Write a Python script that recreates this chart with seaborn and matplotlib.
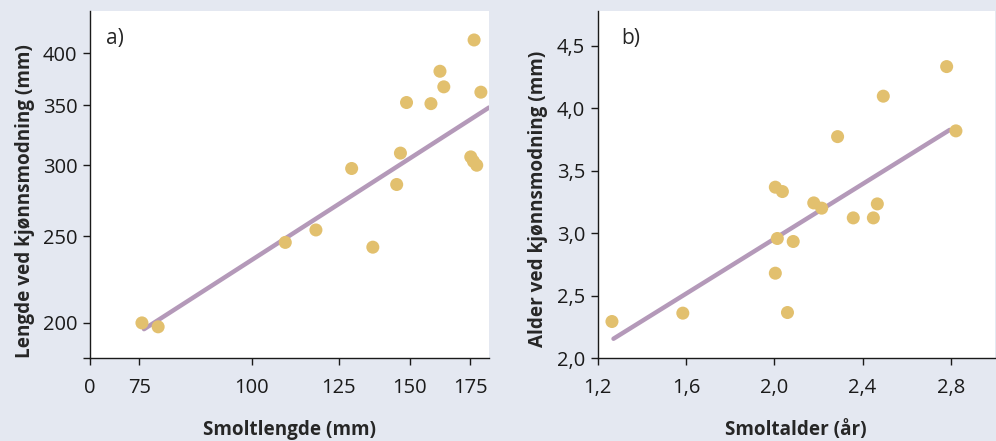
import numpy as np
import pandas as pd
import matplotlib
matplotlib.use("Agg")
import matplotlib.pyplot as plt
import seaborn as sns

# ── data ─────────────────────────────────────────────────────
# a) smolt length vs length at maturity (log-log axes)
smolt_len = [75.5, 78.7, 109.0, 117.9, 136.4, 129.2, 145.0, 146.4, 148.7,
             158.3, 162.0, 163.6, 176.8, 179.9, 175.3, 176.5, 178.0]
mature_len = [200, 198, 246, 254, 243, 297.5, 285.5, 309.5, 352.5,
              351.5, 382, 367, 414, 362, 306.5, 303, 300]
line_a_x = [75.9, 183.7]
line_a_y = [196.8, 348]

# b) smolt age vs age at maturity
smolt_age = [1.265, 1.586, 2.06, 2.005, 2.014, 2.086, 2.005, 2.037, 2.179,
             2.215, 2.287, 2.358, 2.449, 2.467, 2.494, 2.781, 2.823]
mature_age = [2.293, 2.36, 2.365, 2.68, 2.958, 2.934, 3.369, 3.334, 3.243,
              3.201, 3.774, 3.123, 3.123, 3.235, 4.098, 4.335, 3.82]
line_b_x = [1.272, 2.795]
line_b_y = [2.155, 3.828]

xticks_a = [66.1, 75, 100, 125, 150, 175]
xlabels_a = ["0", "75", "100", "125", "150", "175"]
yticks_a = [182.7, 200, 250, 300, 350, 400]
ylabels_a = ["", "200", "250", "300", "350", "400"]
xticks_b = [1.2, 1.6, 2.0, 2.4, 2.8]
yticks_b = [2.0, 2.5, 3.0, 3.5, 4.0, 4.5]

BG = "#e4e8f1"
DOT = "#e2c06e"
LINE = "#b499b9"

sns.set_style("ticks")
plt.rcParams["font.family"] = ["Open Sans", "DejaVu Sans"]

fig = plt.figure(figsize=(9.96, 4.41), dpi=100, facecolor=BG)
ax1 = fig.add_axes([0.0904, 0.188, 0.4006, 0.787])
ax2 = fig.add_axes([0.6000, 0.188, 0.3990, 0.787])

df_a = pd.DataFrame({"x": smolt_len, "y": mature_len})
df_b = pd.DataFrame({"x": smolt_age, "y": mature_age})

for ax in (ax1, ax2):
    ax.set_facecolor("white")
    for s in ("top", "right"):
        ax.spines[s].set_visible(False)
    for s in ("left", "bottom"):
        ax.spines[s].set_color("#1a1a1a")
        ax.spines[s].set_linewidth(1.0)
    ax.tick_params(direction="out", length=5, width=1, color="#1a1a1a",
                   labelsize=14.5, labelcolor="#1a1a1a")
    ax.tick_params(axis="x", pad=9)
    ax.tick_params(axis="y", pad=4)

# panel a
sns.lineplot(x=line_a_x, y=line_a_y, ax=ax1, color=LINE, lw=3.2, zorder=2)
sns.scatterplot(data=df_a, x="x", y="y", ax=ax1, color=DOT, s=88,
                edgecolor="none", zorder=3)
ax1.set_xscale("log")
ax1.set_yscale("log")
ax1.set_xlim(66.1, 183.7)
ax1.set_ylim(182.7, 446)
ax1.set_xticks(xticks_a)
ax1.set_xticklabels(xlabels_a)
ax1.set_yticks(yticks_a)
ax1.set_yticklabels(ylabels_a)
ax1.minorticks_off()
ax1.set_xlabel("Smoltlengde (mm)", fontsize=13.6, fontweight="bold", labelpad=16)
ax1.set_ylabel("Lengde ved kjønnsmodning (mm)", fontsize=13.6, fontweight="bold",
               labelpad=6, y=0.452)
ax1.text(0.04, 0.95, "a)", transform=ax1.transAxes, fontsize=15, va="top")

# panel b
sns.lineplot(x=line_b_x, y=line_b_y, ax=ax2, color=LINE, lw=3.2, zorder=2)
sns.scatterplot(data=df_b, x="x", y="y", ax=ax2, color=DOT, s=88,
                edgecolor="none", zorder=3)
ax2.set_xlim(1.2, 3.0)
ax2.set_ylim(2.0, 4.78)
ax2.set_xticks(xticks_b)
ax2.set_xticklabels([f"{v:.1f}".replace(".", ",") for v in xticks_b])
ax2.set_yticks(yticks_b)
ax2.set_yticklabels([f"{v:.1f}".replace(".", ",") for v in yticks_b])
ax2.set_xlabel("Smoltalder (år)", fontsize=13.6, fontweight="bold", labelpad=16)
ax2.set_ylabel("Alder ved kjønnsmodning (mm)", fontsize=13.6, fontweight="bold",
               labelpad=6, y=0.458)
ax2.text(0.06, 0.95, "b)", transform=ax2.transAxes, fontsize=15, va="top")

fig.savefig("out.png", dpi=100, facecolor=BG)
